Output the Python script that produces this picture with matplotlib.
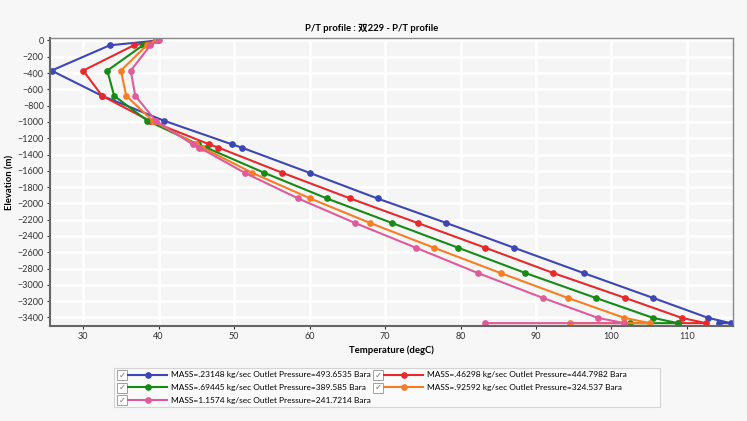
import matplotlib
matplotlib.use("Agg")
import matplotlib.pyplot as plt
from matplotlib.patches import Rectangle

plt.rcParams["font.family"] = ["Lato", "Noto Sans CJK SC", "DejaVu Sans"]

# elevation of each profile node (m), same for all cases
elevation = [0, -60, -370, -680, -985, -1275, -1315, -1625, -1940,
             -2240, -2545, -2855, -3160, -3405, -3470, -3470]

temp_023 = [39.9, 33.5, 25.8, 32.5, 40.7, 49.7, 51.0, 60.0, 69.0,
            78.1, 87.1, 96.3, 105.5, 112.8, 115.8, 114.2]
temp_046 = [39.8, 36.7, 30.0, 32.5, 38.8, 46.7, 47.9, 56.4, 65.4,
            74.3, 83.3, 92.3, 101.8, 109.3, 112.5, 108.8]
temp_069 = [39.7, 37.9, 33.2, 34.1, 38.5, 45.2, 46.3, 54.0, 62.3,
            70.9, 79.7, 88.6, 97.9, 105.5, 108.8, 102.5]
temp_093 = [39.6, 38.4, 35.0, 35.7, 39.2, 44.9, 45.8, 52.4, 60.1,
            68.0, 76.5, 85.3, 94.2, 101.7, 105.1, 94.5]
temp_116 = [40.0, 38.9, 36.3, 36.9, 39.6, 44.5, 45.4, 51.4, 58.5,
            66.0, 74.1, 82.3, 90.9, 98.2, 101.7, 83.3]

labels = [
    "MASS=.23148 kg/sec Outlet Pressure=493.6535 Bara",
    "MASS=.46298 kg/sec Outlet Pressure=444.7982 Bara",
    "MASS=.69445 kg/sec Outlet Pressure=389.585 Bara",
    "MASS=.92592 kg/sec Outlet Pressure=324.537 Bara",
    "MASS=1.1574 kg/sec Outlet Pressure=241.7214 Bara",
]
colors = ["#3c46b4", "#e8282a", "#158a15", "#f77d25", "#e05a9a"]
series = [temp_023, temp_046, temp_069, temp_093, temp_116]

x_ticks = [30, 40, 50, 60, 70, 80, 90, 100, 110]
y_ticks = list(range(0, -3401, -200))

W, H = 747, 421
fig = plt.figure(figsize=(W / 100, H / 100), dpi=100)
fig.patch.set_facecolor("#f7f7f7")

ax = fig.add_axes([50 / W, 1 - 326 / H, 683 / W, 288 / H])
ax.set_facecolor("#f5f5f5")

lines = []
for temps, col, lab in zip(series, colors, labels):
    ln, = ax.plot(temps, elevation, color=col, lw=1.5,
                  marker="o", markersize=3.8, label=lab)
    lines.append(ln)

ax.set_xlim(25.6, 116.1)
ax.set_ylim(-3505, 30)
ax.set_xticks(x_ticks)
ax.set_yticks(y_ticks)
ax.grid(True, color="white", lw=2)
ax.set_axisbelow(True)

ax.tick_params(axis="both", labelsize=6.5, length=2.5, width=0.8,
               colors="#333333", pad=2)
for s in ["left", "bottom"]:
    ax.spines[s].set_color("#666666")
    ax.spines[s].set_linewidth(1.5)
for s in ["top", "right"]:
    ax.spines[s].set_color("#888888")
    ax.spines[s].set_linewidth(1.0)

ax.set_xlabel("Temperature (degC)", fontsize=6.8, fontweight="bold", labelpad=3)
ax.set_ylabel("Elevation (m)", fontsize=6.8, fontweight="bold", labelpad=2)

fig.text(0.497, 1 - 28 / H, "P/T profile : 双229 - P/T profile",
         ha="center", va="center", fontsize=6.8, fontweight="bold")

# legend box below the axes
fig.patches.append(Rectangle((114 / W, 1 - 407 / H), 546 / W, 39.5 / H,
                             transform=fig.transFigure, facecolor="#fafafa",
                             edgecolor="#d4d4d4", lw=0.8))

leg_kw = dict(frameon=False, fontsize=6.0, handlelength=4.7,
              handletextpad=0.5, labelspacing=0.66, borderpad=0,
              borderaxespad=0, loc="upper left")
fig.legend([lines[0], lines[2], lines[4]],
           [labels[0], labels[2], labels[4]],
           bbox_to_anchor=(128 / W, 1 - 371.5 / H), **leg_kw)
fig.legend([lines[1], lines[3]], [labels[1], labels[3]],
           bbox_to_anchor=(384 / W, 1 - 371.5 / H), **leg_kw)

# check boxes
for bx, by in [(117, 375), (117, 387.5), (117, 400), (373, 375), (373, 387.5)]:
    fig.patches.append(Rectangle((bx / W, 1 - (by + 5) / H), 10 / W, 10 / H,
                                 transform=fig.transFigure, facecolor="white",
                                 edgecolor="#a0a0a0", lw=0.7))
    fig.text((bx + 5) / W, 1 - by / H, "✓", ha="center", va="center",
             fontsize=6, color="#777777", family="DejaVu Sans")

fig.savefig("out.png", dpi=100, facecolor=fig.get_facecolor())
